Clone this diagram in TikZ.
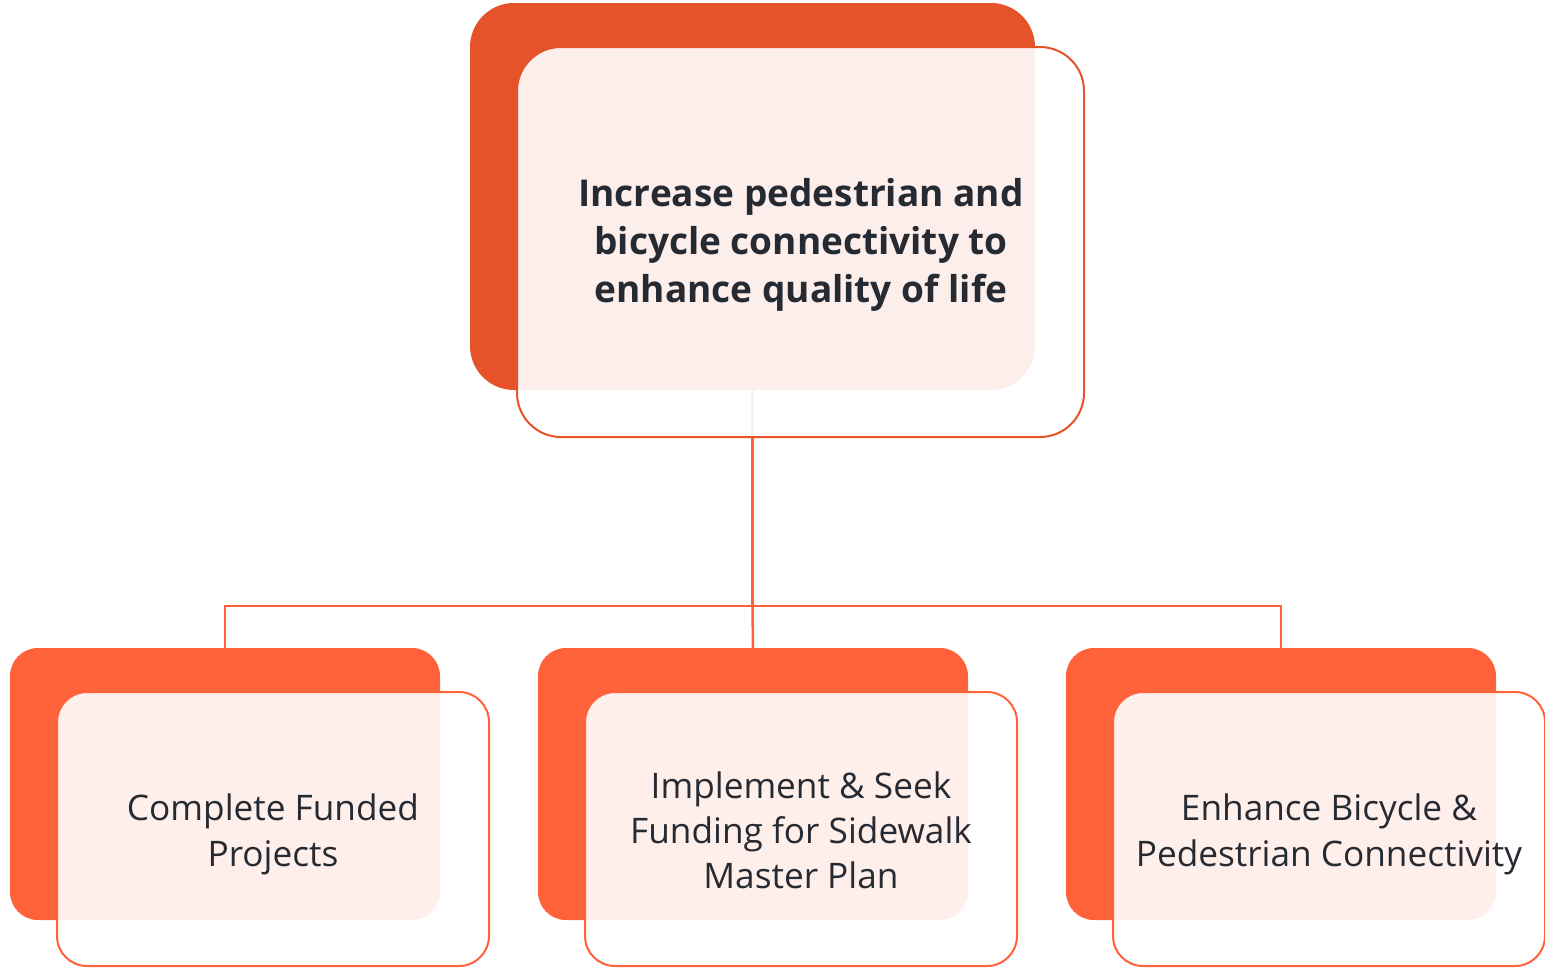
\documentclass[tikz,border=0pt]{standalone}
\usepackage{fontspec}
\newfontfamily\lblfont{Open Sans}
\definecolor{deeporange}{HTML}{E6532B}
\definecolor{brightorange}{HTML}{FF6138}
\definecolor{inkdark}{HTML}{262A33}
\tikzset{
  backbox/.style={rectangle, inner sep=0pt, outer sep=0pt, draw=none},
  frontbox/.style={rectangle, inner sep=0pt, outer sep=0pt, fill=white,
    fill opacity=0.9, line width=2pt},
  topback/.style={backbox, fill=deeporange, rounded corners=44pt,
    minimum width=565pt, minimum height=387pt},
  topfront/.style={frontbox, draw=deeporange, rounded corners=44pt,
    minimum width=567pt, minimum height=390pt},
  subback/.style={backbox, fill=brightorange, rounded corners=28pt,
    minimum width=430pt, minimum height=272pt},
  subfront/.style={frontbox, draw=brightorange, rounded corners=30pt,
    minimum width=432pt, minimum height=274pt},
  cardtext/.style={inner sep=0pt, text=inkdark, align=center},
  goaltext/.style={cardtext, font=\lblfont\bfseries\fontsize{37}{48}\selectfont},
  subtext/.style={cardtext, font=\lblfont\fontsize{35.2}{46}\selectfont},
  link/.style={draw=brightorange, line width=2.5pt}
}
\begin{document}
\begin{tikzpicture}[x=1pt,y=-1pt]
\useasboundingbox (0,0) rectangle (1545,967);

% filled backing panels
\node[topback] (topback) at (752.5,196.5) {};
\node[subback] (leftback) at (225,784) {};
\node[subback] (midback) at (753,784) {};
\node[subback] (rightback) at (1281,784) {};

% tree connectors
\coordinate (hub) at (752.5,606);
\draw[link] (topback.south) -- (hub);
\draw[link] (hub) -| (leftback.north);
\draw[link] (hub) -- (midback.north);
\draw[link] (hub) -| (rightback.north);

% translucent outlined cards
\node[topfront] (goal) at (800.5,242) {};
\node[subfront] (left) at (273,829) {};
\node[subfront] (mid) at (801,829) {};
\node[subfront] (right) at (1329,829) {};

% card labels
\node[goaltext] (goaltxt) at (801,245)
  {Increase pedestrian and\\bicycle connectivity to\\enhance quality of life};
\node[subtext] (lefttxt) at (273,834) {Complete Funded\\Projects};
\node[subtext, font=\lblfont\fontsize{35.2}{45}\selectfont] (midtxt) at (801,830)
  {Implement \& Seek\\Funding for Sidewalk\\Master Plan};
\node[subtext] (righttxt) at (1329,834) {Enhance Bicycle \&\\Pedestrian Connectivity};
\end{tikzpicture}
\end{document}
